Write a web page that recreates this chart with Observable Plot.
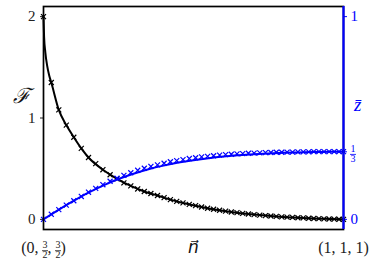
<!DOCTYPE html>
<html>
<head>
<meta charset="utf-8">
<script src="https://cdn.jsdelivr.net/npm/d3@7"></script>
<script src="https://cdn.jsdelivr.net/npm/@observablehq/plot@0.6"></script>
<style>
  html, body { margin: 0; padding: 0; background: #fff; }
  #chart svg { display: block; }
</style>
</head>
<body>
<div id="chart"></div>
<script>
// x position along the path from (0,3/2,3/2) [t=0] to (1,1,1) [t=1]
const tMarks = [0, 0.026, 0.051, 0.076, 0.101, 0.126, 0.150, 0.174, 0.198, 0.222,
  0.245, 0.268, 0.291, 0.314, 0.336, 0.358, 0.380, 0.402, 0.423, 0.444,
  0.465, 0.486, 0.507, 0.527, 0.547, 0.567, 0.587, 0.607, 0.626, 0.645,
  0.664, 0.683, 0.702, 0.721, 0.740, 0.758, 0.776, 0.794, 0.812, 0.830,
  0.848, 0.866, 0.884, 0.901, 0.918, 0.935, 0.952, 0.969, 0.985, 1.0];
// F (left axis) markers
const fMarks = [2.0, 1.35, 1.08, 0.93, 0.81, 0.70, 0.61, 0.55, 0.49, 0.44,
  0.40, 0.36, 0.33, 0.30, 0.275, 0.255, 0.235, 0.215, 0.195, 0.178,
  0.162, 0.148, 0.135, 0.122, 0.110, 0.100, 0.090, 0.081, 0.073, 0.066,
  0.059, 0.053, 0.047, 0.042, 0.037, 0.033, 0.029, 0.025, 0.022, 0.019,
  0.016, 0.014, 0.011, 0.009, 0.007, 0.005, 0.004, 0.002, 0.001, 0.0];
// z-bar (right axis) markers
const zMarks = [0, 0.025, 0.048, 0.070, 0.092, 0.113, 0.134, 0.153, 0.171, 0.188,
  0.203, 0.217, 0.230, 0.242, 0.252, 0.261, 0.269, 0.277, 0.284, 0.290,
  0.295, 0.300, 0.304, 0.308, 0.311, 0.314, 0.317, 0.319, 0.321, 0.323,
  0.324, 0.326, 0.327, 0.328, 0.329, 0.330, 0.331, 0.331, 0.332, 0.332,
  0.333, 0.333, 0.333, 0.334, 0.334, 0.334, 0.334, 0.334, 0.334, 0.334];
// F solid curve
const tLineF = [0, 0.002, 0.006, 0.012, 0.019, 0.026, 0.051, 0.076, 0.101, 0.126,
  0.150, 0.198, 0.245, 0.291, 0.336, 0.380, 0.423, 0.465, 0.507, 0.547,
  0.587, 0.626, 0.664, 0.702, 0.740, 0.776, 0.812, 0.848, 0.884, 0.918, 0.952, 0.985, 1.0];
const fLine = [2.0, 1.80, 1.65, 1.52, 1.42, 1.35, 1.08, 0.93, 0.81, 0.70,
  0.61, 0.49, 0.40, 0.33, 0.275, 0.235, 0.195, 0.162, 0.135, 0.110,
  0.090, 0.073, 0.059, 0.047, 0.037, 0.029, 0.022, 0.016, 0.011, 0.007, 0.004, 0.001, 0.0];
// z-bar solid curve
const tLineZ = [0, 0.05, 0.10, 0.15, 0.20, 0.25, 0.30, 0.35, 0.40, 0.45,
  0.50, 0.55, 0.60, 0.65, 0.70, 0.75, 0.80, 0.85, 0.90, 0.95, 1.0];
const zLine = [0, 0.047, 0.091, 0.132, 0.168, 0.199, 0.225, 0.247, 0.265, 0.280,
  0.292, 0.302, 0.310, 0.316, 0.321, 0.325, 0.328, 0.330, 0.332, 0.333, 0.334];

const xTickVals = [0, 1];
const xTickLabels = ["(0, 3/2, 3/2)", "(1, 1, 1)"];
const leftTicks = [0, 1, 2];
const rightTickVals = [0, 1/3, 1];
const rightTickLabels = ["0", "1/3", "1"];

// right axis shares pixels with left: z = F / 2
const zToF = z => 2 * z;

const markF = tMarks.map((t, i) => ({t, v: fMarks[i]}));
const markZ = tMarks.map((t, i) => ({t, v: zToF(zMarks[i])}));
const lineF = tLineF.map((t, i) => ({t, v: fLine[i]}));
const lineZ = tLineZ.map((t, i) => ({t, v: zToF(zLine[i])}));

const plot = Plot.plot({
  width: 377,
  height: 273,
  marginLeft: 43,
  marginRight: 34,
  marginTop: 6,
  marginBottom: 44,
  style: {fontFamily: "'Liberation Serif', serif", fontSize: "15px", color: "#222", background: "#fff"},
  x: {domain: [0, 1]},
  y: {domain: [-0.1, 2.1]},
  marks: [
    Plot.axisY({anchor: "left", ticks: leftTicks, tickSize: 3, tickPadding: 5, label: null, tickFormat: d => String(d)}),
    Plot.axisY({anchor: "right", ticks: rightTickVals.map(zToF), tickSize: 3, tickPadding: 4, label: null, color: "blue",
      tickFormat: d => rightTickLabels[rightTickVals.findIndex(v => Math.abs(zToF(v) - d) < 1e-9)]}),
    Plot.axisX({ticks: xTickVals, tickSize: 0, tickPadding: 12, label: null, fontSize: 16,
      tickFormat: d => xTickLabels[xTickVals.indexOf(d)]}),
    Plot.line(lineF, {x: "t", y: "v", stroke: "black", strokeWidth: 2, curve: "monotone-x"}),
    Plot.dot(markF, {x: "t", y: "v", symbol: "times", r: 2.4, stroke: "black", strokeWidth: 1.2}),
    Plot.line(lineZ, {x: "t", y: "v", stroke: "blue", strokeWidth: 2, curve: "monotone-x"}),
    Plot.dot(markZ, {x: "t", y: "v", symbol: "times", r: 2.4, stroke: "blue", strokeWidth: 1.2}),
    Plot.frame({stroke: "black", strokeWidth: 1.7}),
    Plot.ruleX([1], {stroke: "blue", strokeWidth: 2.2}),
    Plot.text(["ℱ"], {frameAnchor: "left", dx: -31, dy: -22, fontSize: 21, fontFamily: "'DejaVu Serif', serif", fill: "#111", fontStyle: "italic"}),
    Plot.text(["z̄"], {frameAnchor: "right", dx: 18, dy: -13, fontSize: 19, fontStyle: "italic", fill: "blue"}),
    Plot.text(["n\u20D7"], {frameAnchor: "bottom", dx: 0, dy: 18, lineAnchor: "middle", fontSize: 17, fontStyle: "italic",
      fontFamily: "'DejaVu Serif', 'DejaVu Sans', serif", fill: "#111"})
  ]
});

document.getElementById("chart").appendChild(plot);

// stacked fractions for tick labels
function buildFraction(textEl, pieces, small, w) {
  const sel = d3.select(textEl);
  sel.text(null);
  const dens = [];
  let level = 0; // 0 baseline, 1 denominator
  for (const p of pieces) {
    if (typeof p === "string") {
      const ts = sel.append("tspan").text(p);
      if (level === 1) ts.attr("dy", -small * 0.55);
      level = 0;
    } else {
      sel.append("tspan").text(p[0]).attr("font-size", small)
        .attr("dy", level === 1 ? -small * 1.05 : -small * 0.5);
      const dn = sel.append("tspan").text(p[1]).attr("font-size", small)
        .attr("dx", -w).attr("dy", small * 1.05);
      dens.push(dn.node());
      level = 1;
    }
  }
  // fraction bars
  const parent = d3.select(textEl.parentNode);
  const tr = textEl.getAttribute("transform");
  for (const dn of dens) {
    const b = dn.getBBox();
    const yb = b.y + b.height * 0.12;
    parent.append("line")
      .attr("transform", tr)
      .attr("x1", b.x - 0.5).attr("x2", b.x + b.width + 0.5)
      .attr("y1", yb).attr("y2", yb)
      .attr("stroke", getComputedStyle(textEl).fill || "#222")
      .attr("stroke-width", 0.8);
  }
}
d3.select(plot).selectAll("text").each(function () {
  const t = this.textContent;
  if (t === "(0, 3/2, 3/2)") buildFraction(this, ["(0, ", ["3", "2"], ", ", ["3", "2"], ")"], 10, 5);
  else if (t === "1/3") buildFraction(this, [["1", "3"]], 10, 5);
});
</script>
</body>
</html>
